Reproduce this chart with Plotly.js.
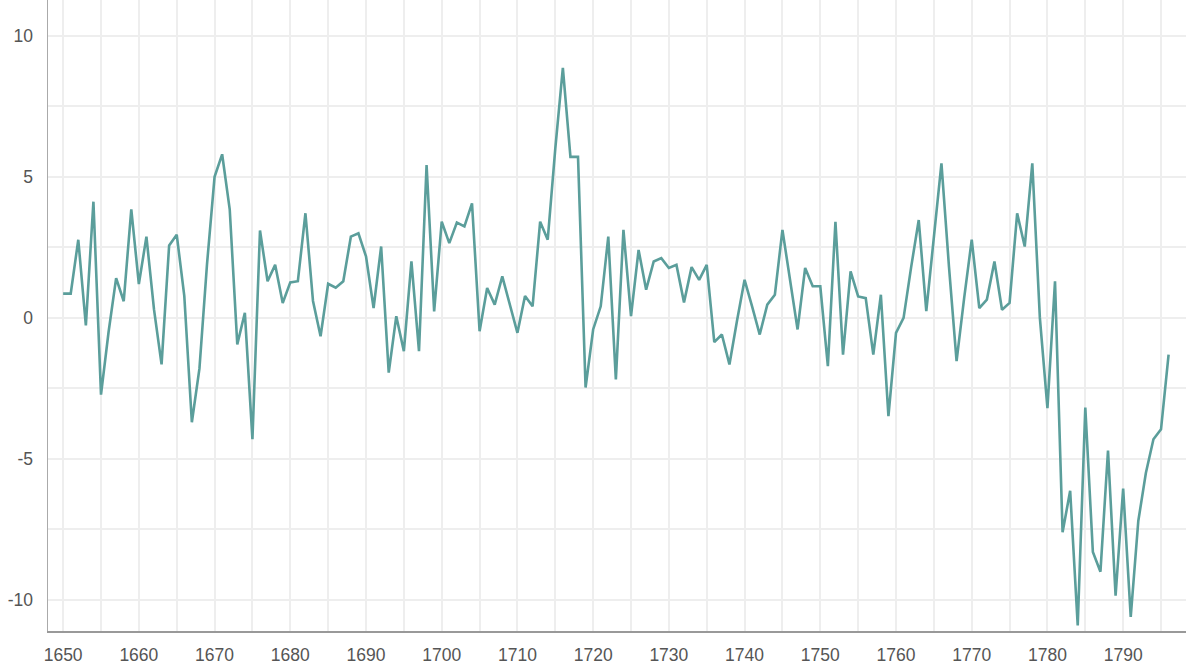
<!DOCTYPE html>
<html>
<head>
<meta charset="utf-8">
<script src="https://cdn.plot.ly/plotly-3.0.1.min.js"></script>
<style>html,body{margin:0;padding:0;background:#fff;}#chart{width:1191px;height:668px;}</style>
</head>
<body>
<div id="chart"></div>
<script>
var startYear = 1650;
var values = [
  0.86, 0.86, 2.77, -0.27, 4.12, -2.72, -0.5, 1.41, 0.59, 3.85,
  1.2, 2.88, 0.3, -1.65, 2.57, 2.95, 0.78, -3.7, -1.8, 1.9,
  5.0, 5.8, 3.85, -0.94, 0.18, -4.3, 3.1, 1.3, 1.88, 0.53,
  1.26, 1.3, 3.71, 0.6, -0.65, 1.21, 1.07, 1.3, 2.88, 3.0,
  2.18, 0.35, 2.53, -1.94, 0.06, -1.18, 2.0, -1.18, 5.42, 0.23,
  3.41, 2.65, 3.38, 3.24, 4.06, -0.47, 1.06, 0.47, 1.47, 0.47,
  -0.53, 0.78, 0.41, 3.41, 2.77, 6.0, 8.86, 5.71, 5.71, -2.47,
  -0.41, 0.41, 2.88, -2.18, 3.12, 0.06, 2.41, 1.0, 2.0, 2.12,
  1.77, 1.88, 0.55, 1.8, 1.35, 1.88, -0.86, -0.59, -1.65, -0.1,
  1.35, 0.4, -0.59, 0.47, 0.82, 3.12, 1.4, -0.41, 1.77, 1.12,
  1.12, -1.71, 3.41, -1.3, 1.65, 0.76, 0.7, -1.3, 0.82, -3.48,
  -0.53, 0.0, 1.8, 3.47, 0.24, 2.8, 5.48, 1.8, -1.53, 0.7,
  2.77, 0.35, 0.65, 2.0, 0.29, 0.53, 3.71, 2.53, 5.48, 0.0,
  -3.2, 1.3, -7.6, -6.13, -10.9, -3.18, -8.3, -9.0, -4.7, -9.85,
  -6.05, -10.6, -7.2, -5.5, -4.3, -3.95, -1.3
];
var years = values.map(function (v, i) { return startYear + i; });

var xTickVals = [1650, 1660, 1670, 1680, 1690, 1700, 1710, 1720, 1730, 1740, 1750, 1760, 1770, 1780, 1790];
var xTickText = ["1650", "1660", "1670", "1680", "1690", "1700", "1710", "1720", "1730", "1740", "1750", "1760", "1770", "1780", "1790"];
var yTickVals = [-10, -5, 0, 5, 10];
var yTickText = ["-10", "-5", "0", "5", "10"];

var gridColor = '#eeeeee';
var tickFont = {family: 'Liberation Sans, Arial, sans-serif', size: 17.5, color: '#555'};

Plotly.newPlot('chart', [{
  x: years,
  y: values,
  type: 'scatter',
  mode: 'lines',
  line: {color: '#5b9e9b', width: 2.6},
  hoverinfo: 'x+y'
}], {
  width: 1191,
  height: 668,
  margin: {l: 48, r: 5, t: 0, b: 37},
  paper_bgcolor: '#fff',
  plot_bgcolor: '#fff',
  showlegend: false,
  xaxis: {
    range: [1648, 1798.3],
    tickmode: 'array',
    tickvals: xTickVals,
    ticktext: xTickText,
    showgrid: true,
    gridcolor: gridColor,
    gridwidth: 2,
    minor: {dtick: 5, tick0: 1650, showgrid: true, gridcolor: gridColor, gridwidth: 2},
    zeroline: false,
    showline: true,
    linecolor: '#999',
    linewidth: 1.5,
    ticks: '',
    ticklabelstandoff: 7,
    tickfont: tickFont
  },
  yaxis: {
    range: [-11.1, 11.27],
    tickmode: 'array',
    tickvals: yTickVals,
    ticktext: yTickText,
    showgrid: true,
    gridcolor: gridColor,
    gridwidth: 2,
    minor: {dtick: 2.5, tick0: 0, showgrid: true, gridcolor: gridColor, gridwidth: 2},
    zeroline: false,
    showline: true,
    linecolor: '#aaa',
    linewidth: 1.5,
    ticks: '',
    ticklabelstandoff: 10,
    tickfont: tickFont
  }
}, {displayModeBar: false, staticPlot: true});
</script>
</body>
</html>
